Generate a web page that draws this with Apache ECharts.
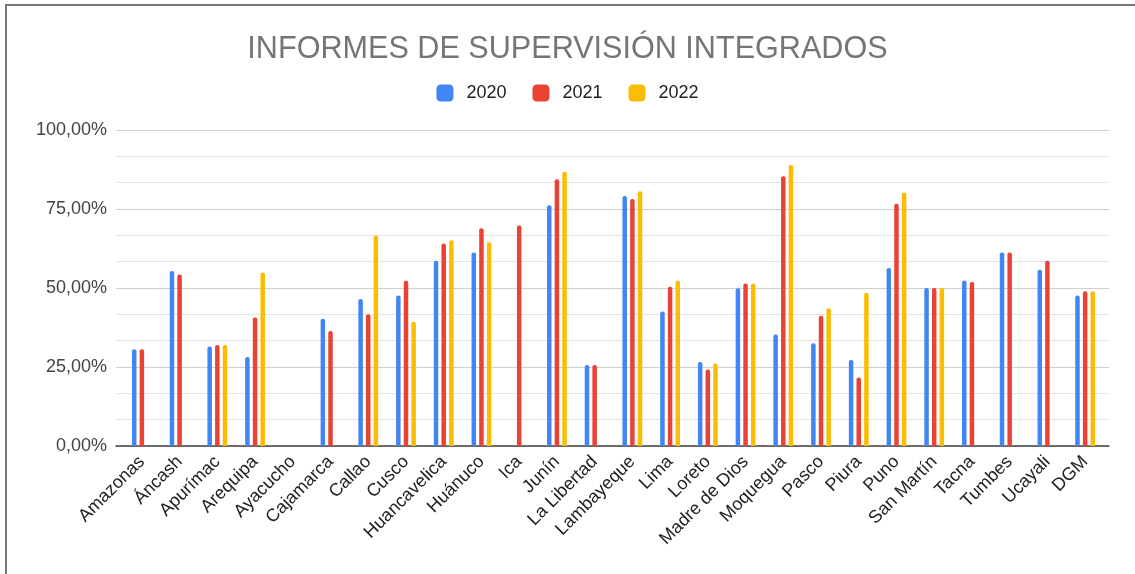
<!DOCTYPE html>
<html>
<head>
<meta charset="utf-8">
<script src="https://cdn.jsdelivr.net/npm/echarts@6/dist/echarts.min.js"></script>
<style>html,body{margin:0;padding:0;background:#fff;}#c{width:1135px;height:574px;}</style>
</head>
<body>
<div id="c"></div>
<script>
const categories = ['Amazonas','Áncash','Apurímac','Arequipa','Ayacucho','Cajamarca','Callao','Cusco','Huancavelica','Huánuco','Ica','Junín','La Libertad','Lambayeque','Lima','Loreto','Madre de Dios','Moquegua','Pasco','Piura','Puno','San Martín','Tacna','Tumbes','Ucayali','DGM'];
const seriesNames = ['2020','2021','2022'];
const values2020 = [30.6,55.4,31.5,28.2,null,40.3,46.5,47.6,58.6,61.2,null,76.2,25.6,79.1,42.6,26.6,49.9,35.3,32.5,27.2,56.3,50.0,52.4,61.2,55.8,47.6];
const values2021 = [30.6,54.3,32.0,40.7,null,36.4,41.7,52.3,64.1,68.9,69.8,84.4,25.6,78.2,50.4,24.2,51.4,85.4,41.2,21.7,76.7,50.0,51.9,61.2,58.6,49.0];
const values2022 = [null,null,32.0,54.9,null,null,66.6,39.3,65.1,64.5,null,86.8,null,80.6,52.3,26.1,51.4,88.9,43.6,48.5,80.2,50.0,null,null,null,49.0];
const yTicks = [0,25,50,75,100];
const titleText = 'INFORMES DE SUPERVISIÓN INTEGRADOS';

const FONT = "'Liberation Sans', Arial, sans-serif";
const colors = ['#4285F4','#EA4335','#FBBC04'];
const chart = echarts.init(document.getElementById('c'));
const allValues = [values2020, values2021, values2022];

chart.setOption({
  animation: false,
  backgroundColor: '#fff',
  title: {
    text: titleText, left: 'center', top: 29,
    textStyle: { fontFamily: FONT, fontSize: 30.6, fontWeight: 'normal', color: '#757575' }
  },
  legend: {
    top: 79, left: 'center', itemWidth: 17, itemHeight: 17, itemGap: 26,
    icon: 'roundRect',
    textStyle: { fontFamily: FONT, fontSize: 18, color: '#222', padding: [0,0,0,8] },
    data: seriesNames
  },
  graphic: [
    { type: 'line', shape: { x1: 5, y1: 5, x2: 1135, y2: 5 }, style: { stroke: '#777', lineWidth: 2 } },
    { type: 'line', shape: { x1: 6, y1: 5, x2: 6, y2: 574 }, style: { stroke: '#777', lineWidth: 2 } }
  ],
  grid: [
    { left: 116, right: 26, top: 130, bottom: 128 },
    { left: 123, right: 31, top: 130, bottom: 128 }
  ],
  xAxis: [
    { type: 'value', gridIndex: 0, min: 0, max: 1, axisLabel: { show: false }, axisTick: { show: false }, splitLine: { show: false },
      axisLine: { show: true, lineStyle: { color: '#444', width: 1.5 } } },
    { type: 'category', gridIndex: 1, data: categories, axisLine: { show: false }, axisTick: { show: false },
      axisLabel: { rotate: 45, interval: 0, margin: 13, fontFamily: FONT, fontSize: 18, color: '#222' } }
  ],
  yAxis: [
    { type: 'value', gridIndex: 0, min: yTicks[0], max: yTicks[yTicks.length-1], interval: 25,
      axisLine: { show: false }, axisTick: { show: false },
      axisLabel: { margin: 9, fontFamily: FONT, fontSize: 18, color: '#444',
        formatter: v => v.toFixed(2).replace('.', ',') + '%' },
      splitLine: { lineStyle: { color: '#cfcfcf', width: 1 } },
      minorTick: { show: false, splitNumber: 3 },
      minorSplitLine: { show: true, lineStyle: { color: '#e3e3e3', width: 1 } } },
    { type: 'value', gridIndex: 1, min: 0, max: 100, show: false }
  ],
  series: seriesNames.map((name, i) => ({
    name, type: 'bar', xAxisIndex: 1, yAxisIndex: 1,
    data: allValues[i], barWidth: 4.5, barGap: '70%',
    itemStyle: { color: colors[i], borderRadius: [2,2,0,0] }
  }))
});
</script>
</body>
</html>
